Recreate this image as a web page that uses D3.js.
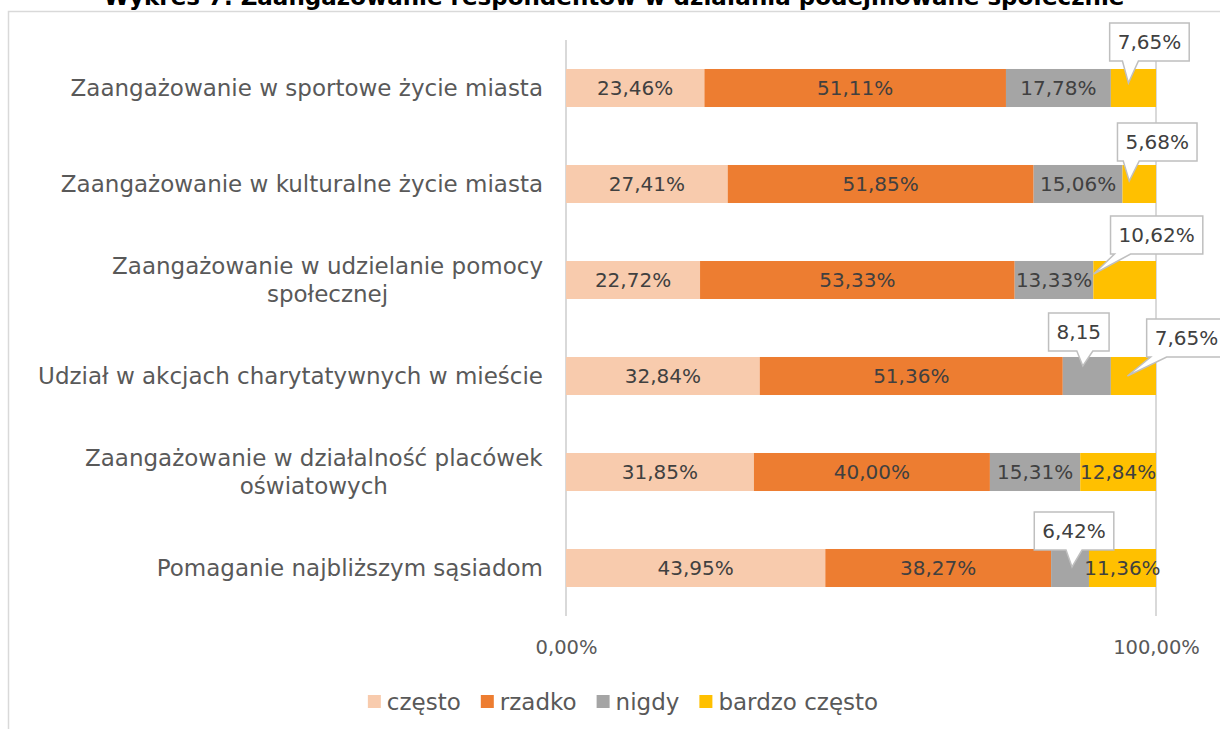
<!DOCTYPE html>
<html>
<head>
<meta charset="utf-8">
<script src="https://cdn.jsdelivr.net/npm/d3@7"></script>
<style>
  body { margin: 0; background: #fff; }
  svg { display: block; font-family: 'DejaVu Sans', sans-serif; }
</style>
</head>
<body>
<div class="chart"></div>
<script>
const categories = [
  ['Zaangażowanie w sportowe życie miasta'],
  ['Zaangażowanie w kulturalne życie miasta'],
  ['Zaangażowanie w udzielanie pomocy', 'społecznej'],
  ['Udział w akcjach charytatywnych w mieście'],
  ['Zaangażowanie w działalność placówek', 'oświatowych'],
  ['Pomaganie najbliższym sąsiadom']
];
const seriesNames = ['często', 'rzadko', 'nigdy', 'bardzo często'];
const czesto = [23.46, 27.41, 22.72, 32.84, 31.85, 43.95];
const rzadko = [51.11, 51.85, 53.33, 51.36, 40.0, 38.27];
const nigdy = [17.78, 15.06, 13.33, 8.15, 15.31, 6.42];
const bardzoCzesto = [7.65, 5.68, 10.62, 7.65, 12.84, 11.36];
const xTicks = [0, 100];
const title = 'Wykres 7. Zaangażowanie respondentów w działania podejmowane społecznie';

const colors = ['#F8CBAD', '#ED7D31', '#A5A5A5', '#FFC000'];
const width = 1220;
const height = 729;

// labels moved out as callouts (row-series): box offset and pointer tip offset from segment centre
const callouts = {
  '0-3': { dx: 16, dy: -46, tx: -5, ty: -5 },
  '1-3': { dx: 18, dy: -42, tx: -10, ty: -3 },
  '2-3': { dx: 32, dy: -45, tx: -31, ty: -6 },
  '3-2': { dx: -8, dy: -44, tx: -4, ty: -10 },
  '3-3': { dx: 53, dy: -38, tx: -6, ty: 0 },
  '5-2': { dx: 4, dy: -37, tx: 2, ty: -1 }
};
const noPercent = ['3-2'];

const series = [czesto, rzadko, nigdy, bardzoCzesto];
const rows = categories.map((c, i) => {
  const r = { i: i };
  seriesNames.forEach((s, k) => (r[s] = series[k][i]));
  return r;
});
const stacked = d3.stack().keys(seriesNames)(rows);

const fmt = (v) => d3.format('.2f')(v).replace('.', ',');

const svg = d3
  .select('.chart')
  .append('svg')
  .attr('width', width)
  .attr('height', height);

// chart border
svg
  .append('rect')
  .attr('x', 8.5)
  .attr('y', 11.5)
  .attr('width', 1240)
  .attr('height', 740)
  .attr('fill', 'none')
  .attr('stroke', '#D9D9D9')
  .attr('stroke-width', 1.5);

svg
  .append('text')
  .attr('x', 614)
  .attr('y', 5)
  .attr('text-anchor', 'middle')
  .attr('font-weight', 'bold')
  .attr('font-size', 23)
  .attr('fill', '#000')
  .text(title);

const x = d3.scaleLinear().domain([0, 100]).range([566, 1156]);
const y = d3
  .scaleBand()
  .domain(d3.range(categories.length))
  .range([40, 616])
  .paddingInner(0.604)
  .paddingOuter(0.302);

// grid / axis lines
svg
  .selectAll('.grid')
  .data(xTicks)
  .enter()
  .append('line')
  .attr('x1', (d) => x(d))
  .attr('x2', (d) => x(d))
  .attr('y1', 40)
  .attr('y2', 616)
  .attr('stroke', '#D9D9D9')
  .attr('stroke-width', 2);

const xAxis = svg
  .append('g')
  .attr('transform', 'translate(0,616)')
  .call(
    d3
      .axisBottom(x)
      .tickValues(xTicks)
      .tickSize(0)
      .tickPadding(24)
      .tickFormat((d) => fmt(d) + '%')
  );
xAxis.select('.domain').remove();
xAxis
  .selectAll('text')
  .attr('font-family', "'DejaVu Sans', sans-serif")
  .attr('font-size', 19.5)
  .attr('fill', '#595959');

// category labels
const catG = svg
  .selectAll('.cat')
  .data(categories)
  .enter()
  .append('text')
  .attr('font-size', 23)
  .attr('fill', '#595959')
  .attr('text-anchor', 'middle');
catG.each(function (lines, i) {
  const t = d3.select(this);
  const cy = y(i) + y.bandwidth() / 2;
  lines.forEach((l, j) => {
    t.append('tspan')
      .attr('x', 0)
      .attr('y', cy + (j - (lines.length - 1) / 2) * 28)
      .attr('dy', '0.35em')
      .text(l);
  });
  const w = this.getBBox().width;
  t.selectAll('tspan').attr('x', 543 - w / 2);
});

// bars
const layers = svg
  .selectAll('.layer')
  .data(stacked)
  .enter()
  .append('g')
  .attr('fill', (d, k) => colors[k]);

layers
  .selectAll('rect')
  .data((d) => d)
  .enter()
  .append('rect')
  .attr('x', (d) => x(d[0]))
  .attr('y', (d) => y(d.data.i))
  .attr('width', (d) => x(d[1]) - x(d[0]))
  .attr('height', y.bandwidth());

// value labels
const labels = [];
stacked.forEach((layer, k) => {
  layer.forEach((d) => {
    const key = d.data.i + '-' + k;
    labels.push({
      key: key,
      text: fmt(d[1] - d[0]) + (noPercent.includes(key) ? '' : '%'),
      cx: (x(d[0]) + x(d[1])) / 2,
      cy: y(d.data.i) + y.bandwidth() / 2
    });
  });
});

svg
  .selectAll('.val')
  .data(labels.filter((d) => !callouts[d.key]))
  .enter()
  .append('text')
  .attr('x', (d) => d.cx)
  .attr('y', (d) => d.cy)
  .attr('dy', '0.36em')
  .attr('text-anchor', 'middle')
  .attr('font-size', 20)
  .attr('fill', '#404040')
  .text((d) => d.text);

// callouts
labels
  .filter((d) => callouts[d.key])
  .forEach((d) => {
    const c = callouts[d.key];
    const g = svg.append('g');
    const path = g.append('path');
    const t = g
      .append('text')
      .attr('x', d.cx + c.dx)
      .attr('y', d.cy + c.dy)
      .attr('dy', '0.36em')
      .attr('text-anchor', 'middle')
      .attr('font-size', 20)
      .attr('fill', '#404040')
      .text(d.text);
    const w = t.node().getComputedTextLength() + 16;
    const h = 38;
    const L = d.cx + c.dx - w / 2;
    const R = L + w;
    const T = d.cy + c.dy - h / 2;
    const B = T + h;
    const tipX = d.cx + c.tx;
    const tipY = d.cy + c.ty;
    const x1 = Math.max(L + 4, Math.min(tipX - 6, R - 20));
    const x2 = x1 + 16;
    path
      .attr(
        'd',
        `M${L},${T}H${R}V${B}H${x2}L${tipX},${tipY}L${x1},${B}H${L}Z`
      )
      .attr('fill', '#fff')
      .attr('stroke', '#BFBFBF')
      .attr('stroke-width', 1.5);
  });

// legend
const legend = svg.append('g');
let lx = 0;
seriesNames.forEach((s, k) => {
  legend
    .append('rect')
    .attr('x', lx)
    .attr('y', 695)
    .attr('width', 13)
    .attr('height', 13)
    .attr('fill', colors[k]);
  const t = legend
    .append('text')
    .attr('x', lx + 19)
    .attr('y', 702)
    .attr('dy', '0.36em')
    .attr('font-size', 23)
    .attr('fill', '#595959')
    .text(s);
  lx += 19 + t.node().getComputedTextLength() + 20;
});
legend.attr('transform', `translate(${623 - (lx - 20) / 2},0)`);
</script>
</body>
</html>
